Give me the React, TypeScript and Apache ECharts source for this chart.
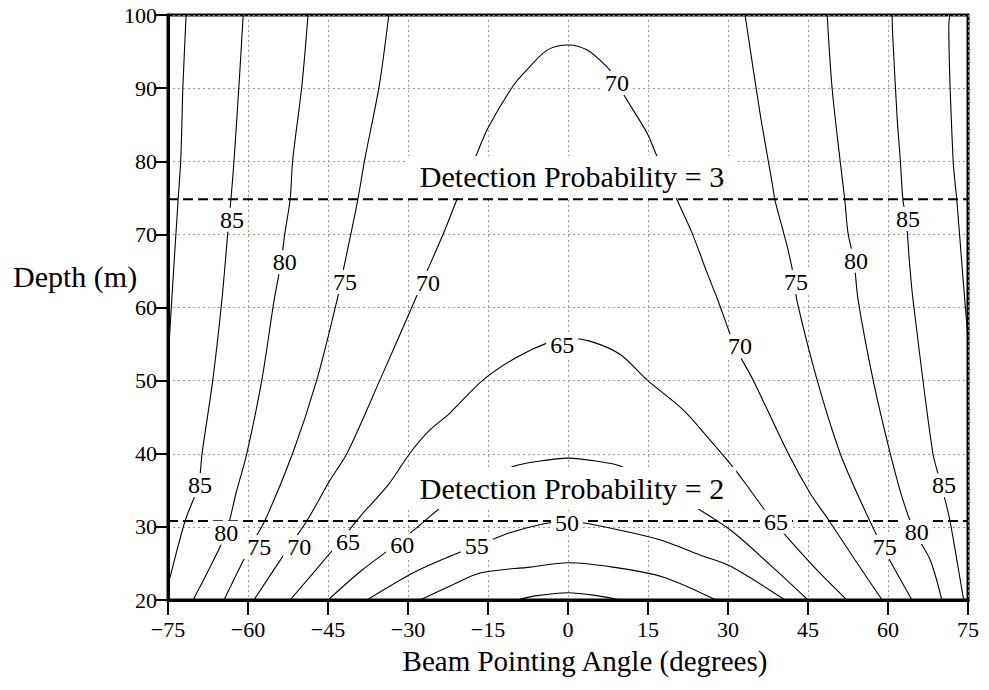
import React, { useEffect, useRef } from "react";
import * as echarts from "echarts";

// ---- contour lines, [beam angle (deg), depth (m)] ----
const c90L = [[-71.6, 100], [-72.2, 90.3], [-72.6, 80.3], [-73.1, 74.8], [-74.3, 61.0], [-74.8, 55.0], [-75, 52.5]];
const c90R = [[71.6, 100], [71.4, 98.6], [72.2, 80.2], [72.9, 74.7], [73.9, 65.5], [74.4, 61.0], [75, 55.6]];
const c85L = [[-60.9, 100], [-61.7, 90.3], [-62.6, 80.3], [-63.2, 74.8], [-63.8, 70.1], [-64.9, 61.0], [-66.6, 50.1], [-68.6, 40.1], [-69.3, 35.7], [-71.8, 30.8], [-74.6, 23.2], [-75, 22.1]];
const c85R = [[60.75, 100], [60.9, 97.0], [61.7, 86.1], [62.3, 80.2], [62.8, 74.7], [63.4, 72.1], [64.1, 65.5], [64.7, 61.0], [68.4, 40.1], [70.0, 35.7], [71.6, 30.9], [74.1, 20.4], [74.3, 20]];
const c80L = [[-48.75, 100], [-49.9, 90.3], [-51.6, 80.3], [-52.1, 74.8], [-53.1, 70.1], [-53.8, 66.2], [-55.1, 61.0], [-57.4, 50.1], [-60.2, 40.1], [-62.25, 34.6], [-64.1, 29.2], [-67.1, 24.5], [-70.3, 20]];
const c80R = [[48.6, 100], [49.5, 90.15], [51.0, 80.2], [51.9, 74.7], [52.5, 70.2], [53.6, 66.4], [54.4, 61.0], [57.2, 50.1], [60.4, 40.1], [62.8, 33.7], [65.0, 29.3], [67.9, 25.5], [70.1, 20]];
const c75L = [[-33.6, 100], [-35.4, 90.3], [-38.1, 80.3], [-39.4, 74.8], [-40.7, 70.1], [-42.6, 63.5], [-43.3, 61.0], [-47.1, 50.1], [-51.6, 40.1], [-56.8, 30.9], [-59.6, 27.25], [-64.5, 20]];
const c75R = [[33.2, 100], [36.0, 86.6], [38.4, 76.5], [38.8, 74.7], [41.25, 67.9], [42.5, 63.5], [42.9, 61.0], [46.7, 50.1], [51.0, 40.1], [54.75, 33.7], [59.0, 27.25], [64.5, 20]];
const c70 = [[-58.9, 20], [-52.3, 27.25], [-48.9, 30.9], [-44.6, 36.4], [-41.4, 40.1], [-35.25, 50.1], [-28.7, 61.0], [-27.4, 63.35], [-23.4, 70.05], [-20.8, 74.8], [-18.9, 77.85], [-17.1, 81.0], [-15.0, 84.55], [-10.3, 90.3], [-7.7, 92.5], [-3.9, 95.2], [0, 95.9], [3.6, 95.2], [7.3, 92.9], [9.2, 91.1], [10.3, 89.3], [14.8, 83.9], [16.5, 81.0], [18.6, 77.85], [20.4, 74.8], [23.25, 70.2], [26.1, 64.7], [28.1, 61.0], [31.3, 54.7], [34.7, 50.1], [41.25, 40.1], [45.4, 34.6], [48.9, 30.9], [53.8, 25.5], [58.9, 20]];
const c65 = [[-52.1, 20], [-42.9, 27.9], [-38.4, 31.9], [-33.75, 35.7], [-29.6, 40.1], [-25.9, 43.25], [-22.1, 45.6], [-15.9, 50.1], [-9.6, 53.2], [-3.4, 55.3], [0, 55.8], [4.1, 55.4], [9.75, 53.6], [14.8, 50.1], [21.6, 46.0], [26.6, 41.9], [30.9, 38.2], [33.75, 35.45], [37.3, 31.9], [40.7, 28.9], [46.3, 24.4], [52.3, 20]];
const c60 = [[-45, 20], [-38.6, 24.1], [-32.4, 27.5], [-27.75, 30.25], [-22.7, 33.3], [-16.5, 35.9], [-10.5, 38.2], [-5.25, 39.0], [0, 39.4], [5.25, 39.0], [9.9, 38.3], [16.3, 35.9], [22.5, 33.3], [30.4, 29.6], [37.9, 24.8], [45, 20]];
const c55 = [[-37.7, 20], [-29.1, 23.7], [-22.1, 26.0], [-17.1, 27.4], [-10.9, 29.2], [-4.7, 30.4], [0, 30.8], [4.1, 30.4], [10.7, 29.4], [17.8, 28.1], [24.75, 26.15], [30.4, 24.65], [40.7, 20]];
const c50 = [[-27.75, 20], [-22.1, 21.9], [-16.5, 23.7], [-7.1, 24.5], [0, 25.1], [8.4, 24.5], [17.8, 23.15], [27.75, 20]];
const c45 = [[-9.6, 20], [-5.8, 20.6], [0, 21.0], [5.4, 20.6], [9.75, 20]];

const contours = [c90L, c90R, c85L, c85R, c80L, c80R, c75L, c75R, c70, c65, c60, c55, c50, c45];

// ---- contour labels [angle, depth, text] ----
const contourLabels = [
  [-63.0, 72.0, "85"], [-69.0, 35.7, "85"], [63.75, 72.1, "85"], [70.5, 35.7, "85"],
  [-53.1, 66.2, "80"], [-64.1, 29.2, "80"], [54.0, 66.4, "80"], [65.4, 29.3, "80"],
  [-41.8, 63.5, "75"], [-57.9, 27.25, "75"], [42.75, 63.5, "75"], [59.4, 27.25, "75"],
  [-26.25, 63.35, "70"], [9.2, 90.7, "70"], [32.25, 54.7, "70"], [-50.4, 27.25, "70"],
  [-1.1, 54.9, "65"], [-41.25, 27.9, "65"], [39.0, 30.7, "65"],
  [-31.1, 27.5, "60"],
  [-17.1, 27.4, "55"],
  [-0.2, 30.5, "50"],
];

// ---- detection probability lines ----
const detectionDepths = [74.8, 30.8];
const detectionTexts = [
  [0.75, 77.85, "Detection Probability = 3"],
  [0.75, 35.3, "Detection Probability = 2"],
];

const xMin = -75, xMax = 75, xStep = 15;
const yMin = 20, yMax = 100, yStep = 10;

const FONT = "Liberation Serif";

export default function App() {
  const ref = useRef<HTMLDivElement>(null);
  useEffect(() => {
    if (!ref.current) return;
    const chart = echarts.init(ref.current, null, { renderer: "svg" });
    const series: any[] = [];
    contours.forEach((c) => {
      series.push({
        type: "line",
        data: c,
        showSymbol: false,
        smooth: 0.3,
        silent: true,
        z: 2,
        lineStyle: { color: "#000", width: 1.1 },
      });
    });
    detectionDepths.forEach((d) => {
      series.push({
        type: "line",
        data: [[xMin, d], [xMax, d]],
        showSymbol: false,
        silent: true,
        z: 3,
        lineStyle: { color: "#000", width: 2, type: [10, 5] },
      });
    });
    series.push({
      type: "scatter",
      data: contourLabels,
      symbolSize: 0,
      silent: true,
      z: 5,
      itemStyle: { opacity: 1, color: "#000" },
      label: {
        show: true,
        position: "inside",
        formatter: (p: any) => p.data[2],
        fontFamily: FONT,
        fontSize: 24,
        color: "#000",
        opacity: 1,
        backgroundColor: "#fff",
        padding: [0, 4],
        lineHeight: 24,
      },
    });
    series.push({
      type: "scatter",
      data: detectionTexts,
      symbolSize: 0,
      silent: true,
      z: 6,
      itemStyle: { opacity: 1, color: "#000" },
      label: {
        show: true,
        position: "inside",
        formatter: (p: any) => p.data[2],
        fontFamily: FONT,
        fontSize: 30,
        color: "#000",
        opacity: 1,
        backgroundColor: "#fff",
        padding: [2, 12],
        lineHeight: 38,
      },
    });

    chart.setOption({
      animation: false,
      grid: {
        left: 168,
        right: 21,
        top: 15,
        bottom: 90,
        show: true,
        borderColor: "#000",
        borderWidth: 3,
        backgroundColor: "transparent",
      },
      xAxis: {
        type: "value",
        min: xMin,
        max: xMax,
        interval: xStep,
        axisLine: { show: true, onZero: false, lineStyle: { color: "#000", width: 3 } },
        axisTick: { show: true, length: 15, lineStyle: { color: "#000", width: 2 } },
        axisLabel: {
          margin: 18,
          fontFamily: FONT,
          fontSize: 22,
          color: "#000",
          formatter: (v: number) => (v < 0 ? "\u2212" + Math.abs(v) : String(v)),
        },
        splitLine: { show: true, lineStyle: { color: "#999", width: 1, type: [2, 3] } },
      },
      yAxis: {
        type: "value",
        min: yMin,
        max: yMax,
        interval: yStep,
        axisLine: { show: true, onZero: false, lineStyle: { color: "#000", width: 3 } },
        axisTick: { show: true, length: 12, lineStyle: { color: "#000", width: 2 } },
        axisLabel: {
          margin: 11,
          fontFamily: FONT,
          fontSize: 22,
          color: "#000",
          padding: [10, 0, 0, 0],
        },
        splitLine: { show: true, lineStyle: { color: "#999", width: 1, type: [2, 3] } },
      },
      graphic: [
        {
          type: "text",
          x: 13,
          y: 276,
          silent: true,
          style: { text: "Depth (m)", fontFamily: FONT, fontSize: 30, fill: "#000", align: "left", verticalAlign: "middle" },
        },
        {
          type: "text",
          x: 585,
          y: 661,
          silent: true,
          style: { text: "Beam Pointing Angle (degrees)", fontFamily: FONT, fontSize: 29, fill: "#000", align: "center", verticalAlign: "middle" },
        },
      ],
      series,
    });
    return () => chart.dispose();
  }, []);
  return (
    <div
      ref={ref}
      style={{ position: "fixed", left: 0, top: 0, width: 989, height: 690, background: "#fff" }}
    />
  );
}
